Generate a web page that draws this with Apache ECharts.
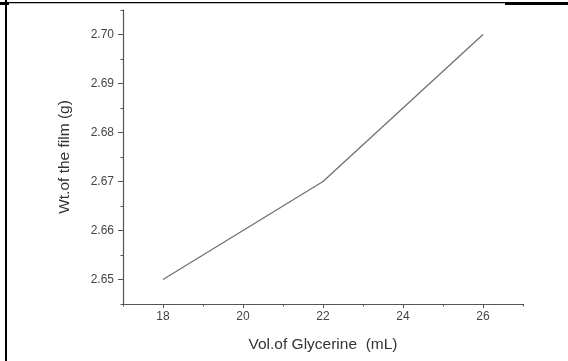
<!DOCTYPE html>
<html><head><meta charset="utf-8">
<script src="https://cdn.jsdelivr.net/npm/echarts@6/dist/echarts.min.js"></script>
<style>html,body{margin:0;padding:0;background:#fff}#c{width:568px;height:361px}</style>
</head><body><div id="c"></div>
<script>
var xValues = [18, 20, 22, 24, 26];
var yValues = [2.650, 2.660, 2.670, 2.685, 2.700];
var xMajorTicks = [18, 20, 22, 24, 26];
var yMajorTicks = [2.65, 2.66, 2.67, 2.68, 2.69, 2.70];
var xTitle = 'Vol.of Glycerine  (mL)';
var yTitle = 'Wt.of the film (g)';

var axisCol = '#555';
var font = 'Liberation Sans, Arial, sans-serif';
var chart = echarts.init(document.getElementById('c'), null, {renderer: 'canvas'});
chart.setOption({
  animation: false,
  backgroundColor: '#fff',
  grid: {left: 123, top: 10, right: 45, bottom: 57},
  xAxis: [{
    type: 'value', min: 17, max: 27, interval: 1, position: 'bottom',
    name: xTitle, nameLocation: 'middle', nameGap: 33,
    nameTextStyle: {color: '#333', fontSize: 15.5, fontFamily: font},
    axisLine: {lineStyle: {color: axisCol, width: 1.2}},
    axisTick: {length: 4, lineStyle: {color: axisCol}, customValues: xMajorTicks},
    axisLabel: {color: '#444', fontSize: 12, fontFamily: font, margin: 7, customValues: xMajorTicks},
    splitLine: {show: false}
  }, {
    type: 'value', min: 17, max: 27, interval: 1, position: 'bottom',
    axisLine: {show: false},
    axisTick: {length: 2.5, lineStyle: {color: axisCol}},
    axisLabel: {show: false}, splitLine: {show: false}
  }],
  yAxis: [{
    type: 'value', min: 2.645, max: 2.705, interval: 0.005, position: 'left',
    name: yTitle, nameLocation: 'middle', nameGap: 50,
    nameTextStyle: {color: '#333', fontSize: 15.5, fontFamily: font},
    axisLine: {show: true, lineStyle: {color: axisCol, width: 1.2}},
    axisTick: {length: 5, lineStyle: {color: axisCol}, customValues: yMajorTicks},
    axisLabel: {color: '#444', fontSize: 12, fontFamily: font, margin: 9, customValues: yMajorTicks,
      formatter: function (v) { return v.toFixed(2); }},
    splitLine: {show: false}
  }, {
    type: 'value', min: 2.645, max: 2.705, interval: 0.005, position: 'left',
    axisLine: {show: false},
    axisTick: {show: true, length: 2.5, lineStyle: {color: axisCol}},
    axisLabel: {show: false}, splitLine: {show: false}
  }],
  series: [{
    type: 'line', xAxisIndex: 0, yAxisIndex: 0,
    data: xValues.map(function (x, i) { return [x, yValues[i]]; }),
    showSymbol: false, symbol: 'none',
    lineStyle: {color: '#707070', width: 1.3}
  }],
  graphic: [
    {type: 'rect', shape: {x: 5, y: 0, width: 2, height: 361}, style: {fill: '#000'}},
    {type: 'rect', shape: {x: 0, y: 2, width: 568, height: 1.2}, style: {fill: '#000'}},
    {type: 'rect', shape: {x: 0, y: 2, width: 9, height: 3}, style: {fill: '#000'}},
    {type: 'rect', shape: {x: 505, y: 2, width: 63, height: 3}, style: {fill: '#000'}}
  ]
});
</script></body></html>
